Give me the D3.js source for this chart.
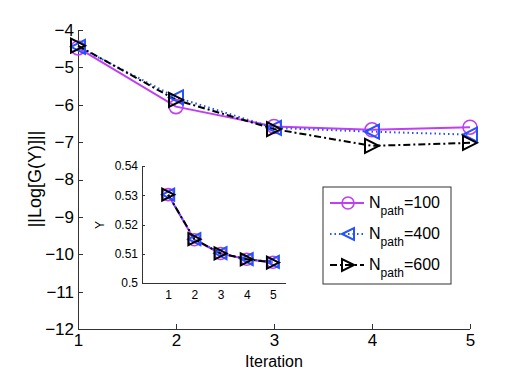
<!DOCTYPE html>
<meta charset="utf-8">
<head>
<style>
  body { margin: 0; background: #fff; }
  svg { font-family: "Liberation Sans", Arial, sans-serif; }
  .axis path, .axis line { fill: none; stroke: #333; shape-rendering: crispEdges; }
  .axis text { fill: #000; }
</style>
</head>
<body>
<script src="https://cdn.jsdelivr.net/npm/d3@7"></script>
<script>
var iterations = [1, 2, 3, 4, 5];
var n100 = [-4.48, -6.05, -6.58, -6.67, -6.6];
var n400 = [-4.45, -5.8, -6.62, -6.72, -6.8];
var n600 = [-4.42, -5.87, -6.65, -7.1, -7.02];
var inset100 = [0.5302, 0.5148, 0.5101, 0.5081, 0.5071];
var inset400 = [0.5302, 0.5150, 0.5102, 0.5082, 0.5072];
var inset600 = [0.5302, 0.5150, 0.5101, 0.5081, 0.5070];
var yTicks = [-12, -11, -10, -9, -8, -7, -6, -5, -4];
var insetYTicks = [0.5, 0.51, 0.52, 0.53, 0.54];
var legendLabels = ["100", "400", "600"];

var w = 520, h = 390;
var svg = d3.select("body").append("svg").attr("width", w).attr("height", h);

var series = [
  {vals: n100, inset: inset100, color: "#bf3ff5", dash: null, marker: "circle", name: legendLabels[0]},
  {vals: n400, inset: inset400, color: "#2552ff", dash: "1.5,3", marker: "left", name: legendLabels[1]},
  {vals: n600, inset: inset600, color: "#000", dash: "7,3,2,3", marker: "right", name: legendLabels[2]}
];

function fmt(d) { return String(d).replace("-", "\u2212"); }

function drawMarker(g, type, x, y, r, color) {
  if (type == "circle") {
    g.append("circle").attr("cx", x).attr("cy", y).attr("r", r)
      .attr("fill", "none").attr("stroke", color).attr("stroke-width", 1.6);
  } else {
    var s = type == "left" ? -1 : 1;
    var pts = [[x + s * r, y], [x - s * r, y - r], [x - s * r, y + r]];
    g.append("path").attr("d", "M" + pts.join("L") + "Z")
      .attr("fill", "none").attr("stroke", color).attr("stroke-width", 2);
  }
}

// main plot
var x = d3.scaleLinear().domain([1, 5]).range([78, 470]);
var y = d3.scaleLinear().domain([-12, -4]).range([329, 30]);

svg.append("g").attr("class", "axis").attr("transform", "translate(0,329)")
  .call(d3.axisBottom(x).tickValues(iterations).tickSize(-5).tickPadding(5).tickFormat(d3.format("d")))
  .call(function(g) { g.selectAll("text").style("font-size", "17px"); g.select(".domain").attr("d", "M78,0H470"); });

svg.append("g").attr("class", "axis").attr("transform", "translate(78,0)")
  .call(d3.axisLeft(y).tickValues(yTicks).tickSize(-5).tickPadding(4).tickFormat(fmt))
  .call(function(g) { g.selectAll("text").style("font-size", "17px"); g.select(".domain").attr("d", "M0,329V30"); });

svg.append("text").attr("x", 274).attr("y", 367).attr("text-anchor", "middle")
  .style("font-size", "16px").text("Iteration");
svg.append("text").attr("transform", "translate(41,179) rotate(-90)").attr("text-anchor", "middle")
  .style("font-size", "18px").text("||Log[G(Y)]||");

var line = d3.line().x(function(d, i) { return x(iterations[i]); }).y(function(d) { return y(d); });
series.forEach(function(s) {
  svg.append("path").datum(s.vals).attr("d", line).attr("fill", "none")
    .attr("stroke", s.color).attr("stroke-width", 2).attr("stroke-dasharray", s.dash);
});
series.forEach(function(s) {
  var g = svg.append("g");
  s.vals.forEach(function(v, i) { drawMarker(g, s.marker, x(iterations[i]), y(v), 7, s.color); });
});

// inset
var ix = d3.scaleLinear().domain([0, 5.5]).range([142, 286]);
var iy = d3.scaleLinear().domain([0.5, 0.54]).range([283, 166]);
svg.append("rect").attr("x", 142).attr("y", 166).attr("width", 144).attr("height", 117).attr("fill", "#fff");

svg.append("g").attr("class", "axis").attr("transform", "translate(0,283)")
  .call(d3.axisBottom(ix).tickValues(iterations).tickSize(0).tickPadding(7).tickFormat(d3.format("d")))
  .call(function(g) { g.selectAll("text").style("font-size", "12px"); g.select(".domain").attr("d", "M142,0H286"); });
svg.append("g").attr("class", "axis").attr("transform", "translate(142,0)")
  .call(d3.axisLeft(iy).tickValues(insetYTicks).tickSize(-3).tickPadding(4).tickFormat(function(d) { return d3.format("")(+d.toFixed(2)); }))
  .call(function(g) { g.selectAll("text").style("font-size", "12px"); g.select(".domain").attr("d", "M0,283V166"); });
svg.append("text").attr("transform", "translate(104,225) rotate(-90)").attr("text-anchor", "middle")
  .style("font-size", "12px").text("Y");

var iline = d3.line().x(function(d, i) { return ix(iterations[i]); }).y(function(d) { return iy(d); });
series.forEach(function(s) {
  svg.append("path").datum(s.inset).attr("d", iline).attr("fill", "none")
    .attr("stroke", s.color).attr("stroke-width", 2).attr("stroke-dasharray", s.dash);
});
series.forEach(function(s) {
  var g = svg.append("g");
  s.inset.forEach(function(v, i) { drawMarker(g, s.marker, ix(iterations[i]), iy(v), 6, s.color); });
});

// legend
var lg = svg.append("g").attr("transform", "translate(323,187)");
lg.append("rect").attr("width", 128).attr("height", 97).attr("fill", "#fff").attr("stroke", "#333");
series.forEach(function(s, i) {
  var yy = 16 + i * 31;
  lg.append("line").attr("x1", 7).attr("x2", 41).attr("y1", yy).attr("y2", yy)
    .attr("stroke", s.color).attr("stroke-width", 2).attr("stroke-dasharray", s.dash);
  drawMarker(lg, s.marker, 25, yy, 6, s.color);
  var t = lg.append("text").attr("x", 46).attr("y", yy + 5).style("font-size", "16px");
  t.append("tspan").text("N");
  t.append("tspan").attr("dy", 7).style("font-size", "12px").text("path");
  t.append("tspan").attr("dy", -7).text("=" + s.name);
});
</script>
</body>
